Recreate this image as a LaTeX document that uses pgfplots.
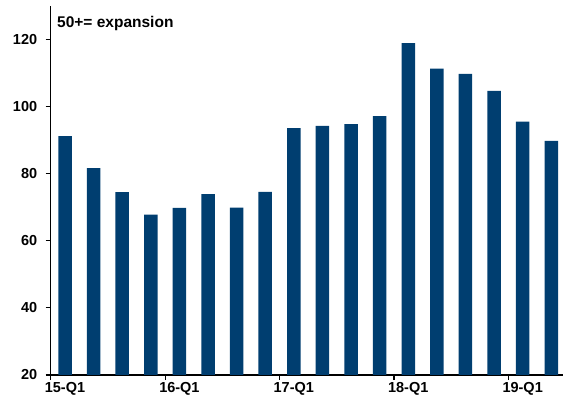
\documentclass[border=0pt]{standalone}
\usepackage{pgfplots}
\pgfplotsset{compat=1.18}
\usepackage{fontspec}
\setmainfont{Liberation Sans}
\definecolor{barblue}{RGB}{0,62,112}
\begin{document}
\begin{tikzpicture}[x=1pt,y=1pt]
\begin{axis}[
  at={(0,0)}, anchor=south west,
  scale only axis,
  width=512.3pt, height=369pt,
  xmin=-0.5, xmax=17.41,
  ymin=20, ymax=130,
  axis lines=left,
  axis line style={line width=1.3pt, -},
  ytick={20,40,60,80,100,120},
  xtick={-0.5,3.5,7.5,11.5,15.5},
  xticklabels={15-Q1,16-Q1,17-Q1,18-Q1,19-Q1},
  x tick label style={xshift=14.3pt, yshift=1pt},
  tick align=outside,
  major tick length=5pt,
  tick style={line width=1.1pt, black},
  ticklabel style={font=\fontsize{14.5}{16}\selectfont\bfseries},
  /pgf/number format/assume math mode=true,
  yticklabel style={xshift=-5pt},
  clip=false,
]
\addplot[ybar, bar width=13.5pt, fill=barblue, draw=none] coordinates {
(0,91.2) (1,81.7) (2,74.5) (3,67.8) (4,69.8) (5,73.9) (6,69.9) (7,74.6)
(8,93.6) (9,94.3) (10,94.8) (11,97.2) (12,118.9) (13,111.3) (14,109.8)
(15,104.7) (16,95.5) (17,89.8)
};
\end{axis}
\node[anchor=base west, font=\fontsize{15.5}{17}\selectfont\bfseries, inner sep=0pt] at (6.3pt,347pt) {50+= expansion};
\pgfresetboundingbox
\useasboundingbox (-50.7pt,-27pt) rectangle (512.3pt,375pt);
\end{tikzpicture}
\end{document}
